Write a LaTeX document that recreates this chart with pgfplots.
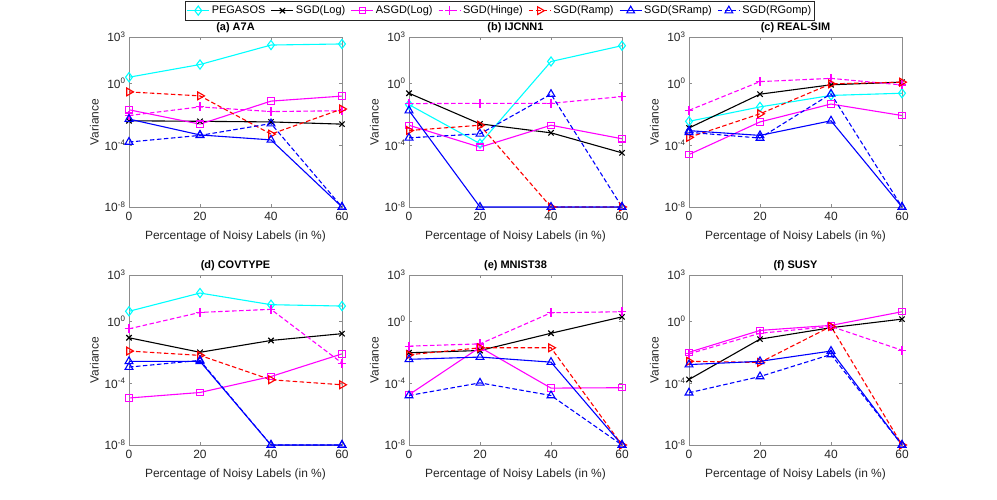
\documentclass[border=0pt]{standalone}
\usepackage{fontspec}
\setmainfont{Liberation Sans}
\usepackage{pgfplots}
\usepackage{pgfplotstable}
\pgfplotsset{compat=1.18}
\definecolor{mcyan}{RGB}{0,255,255}
\definecolor{mmag}{RGB}{255,0,255}
\definecolor{axgray}{RGB}{140,140,140}
\definecolor{txtgray}{RGB}{38,38,38}

% columns: x peg log asgd hinge ramp sramp rgomp
\pgfplotstableread{
x peg log asgd hinge ramp sramp rgomp
0  2.5    3.8e-3 1.95e-2 8.3e-3 2.8e-1 4.9e-3 1.6e-4
20 16.6   3.5e-3 2.3e-3  3.0e-2 1.55e-1 4.6e-4 4.3e-4
40 302    3.2e-3 7.1e-2  1.5e-2 5.2e-4 2.2e-4 2.5e-3
60 355    2.3e-3 1.5e-1  1.7e-2 2.2e-2 1e-8  1e-8
}\tA
\pgfplotstableread{
x peg log asgd hinge ramp sramp rgomp
0  4.2e-2  2.3e-1 1.95e-3 4.9e-2 8.9e-4 1.74e-2 3.0e-4
20 1.26e-4 2.4e-3 7.4e-5  5.1e-2 1.95e-3 1e-8   5.4e-4
40 26      6.3e-4 1.95e-3 5.1e-2 1e-8   1e-8    2.0e-1
60 275     3.2e-5 2.6e-4  1.4e-1 1e-8   1e-8    1e-8
}\tB
\pgfplotstableread{
x peg log asgd hinge ramp sramp rgomp
0  3.5e-3  1.3e-3 2.5e-5 1.8e-2 3.2e-4 8.7e-4 6.8e-4
20 3.0e-2  2.0e-1 3.2e-3 1.3    1.07e-2 4.3e-4 2.9e-4
40 1.66e-1 8.1e-1 4.6e-2 2.1    9.3e-1 3.8e-3 2.1e-1
60 2.3e-1  1.2    8.3e-3 7.9e-1 1.2    1e-8   1e-8
}\tC
\pgfplotstableread{
x peg log asgd hinge ramp sramp rgomp
0  4.5  8.7e-2 1.1e-5 3.3e-1 1.2e-2 2.6e-3 1.1e-3
20 68   1.0e-2 2.5e-5 3.8    6.3e-3 2.6e-3 3.0e-3
40 12   5.8e-2 2.7e-4 6.0    1.66e-4 1e-8  1e-8
60 9.8  1.6e-1 7.9e-3 2.0e-3 7.9e-5 1e-8   1e-8
}\tD
\pgfplotstableread{
x log asgd hinge ramp sramp rgomp
0  9.3e-3 1.8e-5 2.5e-2 6.9e-3 3.5e-3 1.6e-5
20 1.3e-2 2.1e-2 3.5e-2 1.95e-2 4.9e-3 1.05e-4
40 1.7e-1 4.8e-5 3.6    1.95e-2 2.3e-3 1.6e-5
60 1.95   5.1e-5 4.2    1e-8    1e-8   1e-8
}\tE
\pgfplotstableread{
x log asgd hinge ramp sramp rgomp
0  1.74e-4 1.0e-2 7.9e-3 2.6e-3 1.6e-3 2.4e-5
20 7.1e-2  2.6e-1 1.7e-1 2.2e-3 2.6e-3 2.7e-4
40 3.9e-1  5.5e-1 4.7e-1 4.7e-1 1.2e-2 7.2e-3
60 1.4     4.2    1.35e-2 1e-8  1e-8   1e-8
}\tF

\pgfplotsset{
  every axis/.append style={
    scale only axis, width=213bp, height=170bp,
    ymode=log, xmin=0, xmax=60, ymin=1e-8, ymax=1e3,
    xtick={0,20,40,60},
    ytick={1e-8,1e-4,1,1e3},
    yticklabels={10\textsuperscript{-8},10\textsuperscript{-4},10\textsuperscript{0},10\textsuperscript{3}},
    minor ytick={}, yminorticks=false,
    axis line style={axgray, line width=0.7bp},
    tick style={axgray, line width=0.7bp},
    major tick length=3bp,
    tick label style={font=\fontsize{12}{13}\selectfont, text=txtgray},
    xticklabel style={yshift=-2bp},
    /pgf/number format/assume math mode=true,
    xlabel={Percentage of Noisy Labels (in \%)},
    ylabel={Variance},
    label style={font=\fontsize{12}{13}\selectfont, text=txtgray},
    ylabel style={yshift=-1bp},
    xlabel style={yshift=-3bp},
    title style={font=\bfseries\fontsize{11}{12}\selectfont, yshift=-5bp},
    anchor=north west,
    every axis plot/.append style={line width=1.1bp},
  },
  sPeg/.style={color=mcyan, solid, mark=diamond, mark size=4.6, mark options={solid}},
  sLog/.style={color=black, solid, mark=x, mark size=3.8, mark options={solid}},
  sAsgd/.style={color=mmag, solid, mark=square, mark size=3.2, mark options={solid}},
  sHinge/.style={color=mmag, dash pattern=on 4.5bp off 2.5bp, mark=+, mark size=4.5, mark options={solid}},
  sRamp/.style={color=red, dash pattern=on 4.5bp off 2.5bp, mark=triangle, mark size=4.5, mark options={solid, rotate=-90}},
  sSRamp/.style={color=blue, solid, mark=triangle, mark size=4.5, mark options={solid}},
  sRG/.style={color=blue, dash pattern=on 4.5bp off 2.5bp, mark=triangle, mark size=4.5, mark options={solid}},
}

\begin{document}
\begin{tikzpicture}
\path[use as bounding box] (0,0) rectangle (997bp,-500bp);

% (a)
\begin{axis}[at={(129bp,-37bp)}, title={(a) A7A}]
\addplot[sPeg] table[x=x,y=peg]{\tA};
\addplot[sLog] table[x=x,y=log]{\tA};
\addplot[sAsgd] table[x=x,y=asgd]{\tA};
\addplot[sHinge] table[x=x,y=hinge]{\tA};
\addplot[sRamp] table[x=x,y=ramp]{\tA};
\addplot[sSRamp] table[x=x,y=sramp]{\tA};
\addplot[sRG] table[x=x,y=rgomp]{\tA};
\end{axis}

% (b)
\begin{axis}[at={(409bp,-37bp)}, title={(b) IJCNN1},
  legend columns=7,
  legend style={at={(0.427,1.155)}, anchor=center, draw=txtgray, line width=0.6bp,
    font=\fontsize{11}{12}\selectfont, inner xsep=1.5bp, inner ysep=3bp,
    /tikz/every odd column/.append style={column sep=0bp},
    /tikz/every even column/.append style={column sep=3.5bp},
    legend image code/.code={
      \draw[mark repeat=2,mark phase=2] plot coordinates {(0bp,0bp) (11bp,0bp) (22bp,0bp)};}},
  legend cell align=left]
\addplot[sPeg] table[x=x,y=peg]{\tB};
\addplot[sLog] table[x=x,y=log]{\tB};
\addplot[sAsgd] table[x=x,y=asgd]{\tB};
\addplot[sHinge] table[x=x,y=hinge]{\tB};
\addplot[sRamp] table[x=x,y=ramp]{\tB};
\addplot[sSRamp] table[x=x,y=sramp]{\tB};
\addplot[sRG] table[x=x,y=rgomp]{\tB};
\legend{PEGASOS,SGD(Log),ASGD(Log),SGD(Hinge),SGD(Ramp),SGD(SRamp),SGD(RGomp)}
\end{axis}

% (c)
\begin{axis}[at={(689bp,-37bp)}, title={(c) REAL-SIM}]
\addplot[sPeg] table[x=x,y=peg]{\tC};
\addplot[sLog] table[x=x,y=log]{\tC};
\addplot[sAsgd] table[x=x,y=asgd]{\tC};
\addplot[sHinge] table[x=x,y=hinge]{\tC};
\addplot[sRamp] table[x=x,y=ramp]{\tC};
\addplot[sSRamp] table[x=x,y=sramp]{\tC};
\addplot[sRG] table[x=x,y=rgomp]{\tC};
\end{axis}

% (d)
\begin{axis}[at={(129bp,-275bp)}, title={(d) COVTYPE}]
\addplot[sPeg] table[x=x,y=peg]{\tD};
\addplot[sLog] table[x=x,y=log]{\tD};
\addplot[sAsgd] table[x=x,y=asgd]{\tD};
\addplot[sHinge] table[x=x,y=hinge]{\tD};
\addplot[sRamp] table[x=x,y=ramp]{\tD};
\addplot[sSRamp] table[x=x,y=sramp]{\tD};
\addplot[sRG] table[x=x,y=rgomp]{\tD};
\end{axis}

% (e)
\begin{axis}[at={(409bp,-275bp)}, title={(e) MNIST38}]
\addplot[sLog] table[x=x,y=log]{\tE};
\addplot[sAsgd] table[x=x,y=asgd]{\tE};
\addplot[sHinge] table[x=x,y=hinge]{\tE};
\addplot[sRamp] table[x=x,y=ramp]{\tE};
\addplot[sSRamp] table[x=x,y=sramp]{\tE};
\addplot[sRG] table[x=x,y=rgomp]{\tE};
\end{axis}

% (f)
\begin{axis}[at={(689bp,-275bp)}, title={(f) SUSY}]
\addplot[sLog] table[x=x,y=log]{\tF};
\addplot[sAsgd] table[x=x,y=asgd]{\tF};
\addplot[sHinge] table[x=x,y=hinge]{\tF};
\addplot[sRamp] table[x=x,y=ramp]{\tF};
\addplot[sSRamp] table[x=x,y=sramp]{\tF};
\addplot[sRG] table[x=x,y=rgomp]{\tF};
\end{axis}
\end{tikzpicture}
\end{document}
